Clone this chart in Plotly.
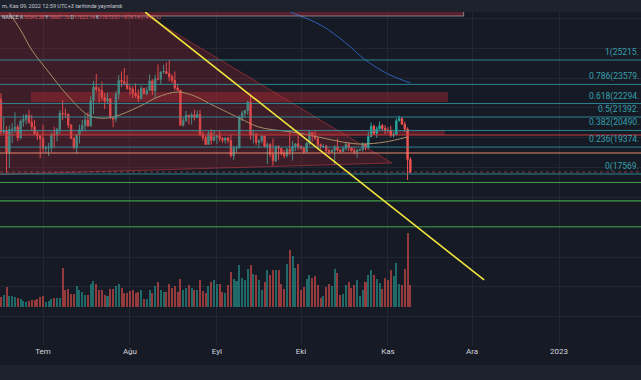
import plotly.graph_objects as go
import pandas as pd

# ---------------- data ----------------
DATES = pd.date_range("2022-06-16", periods=147, freq="D")

OPEN = [22572, 20381, 20471, 19017, 20553, 20573, 20723, 19988, 21110, 21237, 21491, 21038, 20742, 20281, 20123,
        19942, 19279, 19298, 19332, 20215, 20176, 20565, 21640, 21592, 21592, 20862, 19964, 19328, 20212, 20570,
        20836, 21190, 20780, 22485, 23389, 23231, 23164, 22714, 22465, 22609, 21361, 21239, 22930, 23843, 23774, 23643,
        23296, 23269, 22979, 22818, 22622, 23312, 22954, 23175, 23810, 23149, 23954, 23935, 24403, 24441, 24305,
        24094, 23854, 23342, 23191, 20834, 21140, 21516, 21400, 21528, 21368, 21559, 20241, 20037, 19555, 20285, 19811,
        20050, 20131, 19951, 19831, 19986, 19812, 18790, 19293, 19320, 21361, 21648, 21827, 22395, 20173, 20227,
        19701, 19804, 20114, 19417, 19538, 18876, 18462, 19401, 19289, 18920, 18807, 19227, 19079, 19413, 19592,
        19423, 19311, 19056, 19629, 20337, 20158, 19960, 19531, 19417, 19439, 19131, 19060, 19155, 19375, 19176,
        19069, 19262, 19549, 19328, 19123, 19041, 19164, 19204, 19570, 19330, 20080, 20771, 20295, 20591, 20809, 20627,
        20490, 20483, 20151, 20207, 21148, 21299, 20905, 20591, 18545]
HIGH = [22980, 21365, 20785, 20815, 20997, 21723, 20872, 21233, 21558, 21614, 21868, 21539, 21200, 20432, 20179,
        20877, 19467, 19647, 20354, 20740, 20675, 21838, 22527, 21954, 21603, 20900, 20054, 20245, 20880, 21200,
        21588, 21684, 22777, 23800, 24276, 23427, 23756, 23000, 23014, 22666, 21391, 23112, 24199, 24442, 24668, 24194,
        23509, 23459, 23647, 23223, 23472, 23354, 23402, 24245, 23925, 24226, 24918, 24456, 24888, 25047, 25211,
        24247, 24446, 23600, 23208, 21382, 21800, 21516, 21684, 21900, 21819, 21886, 20402, 20148, 20433, 20580, 20490,
        20208, 20445, 20056, 20000, 20055, 20180, 19464, 19457, 21500, 21810, 21860, 22488, 22799, 20541, 20330,
        19890, 20192, 20126, 19686, 19635, 19956, 19500, 19500, 19316, 19180, 19316, 20385, 19790, 19645, 20185,
        19484, 19395, 19719, 20475, 20365, 20456, 20057, 19621, 19559, 19527, 19268, 19220, 19513, 19951, 19227,
        19424, 19676, 19706, 19360, 19347, 19250, 19257, 19695, 19601, 20415, 21020, 20872, 20750, 21085, 20931, 20845,
        20700, 20800, 20393, 21302, 21480, 21365, 21069, 20700, 18688]
LOW = [20232, 20246, 17622, 17960, 19637, 20348, 19770, 19890, 20740, 20906, 20950, 20510, 20181, 19848, 18626,
       19004, 18975, 18781, 19055, 19302, 19761, 20250, 21189, 21316, 20655, 19901, 19238, 18910, 19616, 20384,
       20475, 20755, 20762, 21582, 23038, 22342, 22500, 21934, 22257, 21250, 20706, 21042, 22582, 23414, 23502, 23227,
       22850, 22654, 22681, 22400, 22586, 22909, 22844, 23155, 22865, 22664, 23852, 23580, 24296, 24264, 23774,
       23671, 23180, 23111, 20783, 20761, 21069, 20890, 20890, 21150, 21310, 20107, 19800, 19520, 19520, 19540, 19797,
       19565, 19752, 19655, 19600, 19635, 18681, 18510, 19010, 19300, 21111, 21350, 21538, 19860, 19617, 19497,
       19320, 19637, 19335, 18232, 18711, 18125, 18358, 18531, 18817, 18629, 18680, 18816, 18471, 19101, 19155,
       19160, 18920, 18959, 19490, 19730, 19853, 19320, 19250, 19320, 19023, 18860, 18965, 18190, 19070, 18975,
       19063, 19160, 19100, 19070, 18900, 18650, 19111, 19070, 19157, 19242, 20061, 20202, 20000, 20554, 20515, 20237,
       20330, 20048, 20031, 20180, 21081, 20880, 20384, 17166, 17623]
CLOSE = [20381, 20471, 19017, 20553, 20573, 20723, 19988, 21110, 21237, 21491, 21038, 20742, 20281, 20123, 19942,
         19279, 19298, 19332, 20215, 20176, 20565, 21640, 21592, 21589, 20862, 19964, 19328, 20212, 20570, 20836,
         21190, 20780, 22485, 23389, 23231, 23164, 22714, 22465, 22609, 21361, 21239, 22930, 23843, 23774, 23643, 23294,
         23269, 22979, 22818, 22622, 23312, 22954, 23175, 23810, 23149, 23954, 23935, 24403, 24441, 24305, 24094,
         23854, 23342, 23191, 20834, 21140, 21516, 21400, 21528, 21368, 21559, 20241, 20037, 19555, 20285, 19811, 20050,
         20131, 19951, 19831, 19986, 19812, 18790, 19293, 19320, 21361, 21648, 21827, 22395, 20173, 20227, 19701,
         19804, 20114, 19417, 19538, 18876, 18462, 19401, 19289, 18920, 18807, 19227, 19079, 19413, 19592, 19423,
         19311, 19056, 19629, 20337, 20158, 19960, 19531, 19417, 19439, 19131, 19060, 19155, 19375, 19176, 19069,
         19262, 19549, 19328, 19123, 19041, 19164, 19204, 19570, 19330, 20080, 20771, 20295, 20591, 20809, 20627, 20490,
         20483, 20151, 20207, 21148, 21299, 20905, 20591, 18547, 17673]
# volume, in tens of thousands of BTC
VOLUME = [10, 12, 20, 11, 11, 10, 9, 8, 6, 5, 6, 7, 7, 8, 10,
          11, 5, 6, 8, 9, 9, 9, 39, 17, 18, 13, 13, 21, 17, 15, 12, 12, 23, 26, 23, 17, 17, 12, 11, 18, 18, 21, 23, 19, 14, 14,
          16, 17, 14, 15, 17, 8, 8, 17, 14, 21, 25, 17, 15, 15, 23, 19, 21, 15, 28, 17, 19, 22, 19, 17, 17, 27, 16, 14, 21, 25, 27,
          23, 23, 15, 14, 22, 35, 28, 26, 42, 29, 27, 38, 42, 33, 32, 27, 17, 25, 37, 32, 37, 37, 37, 23, 18, 43, 57, 51, 39, 43,
          17, 20, 28, 32, 29, 31, 22, 9, 11, 20, 23, 21, 38, 34, 12, 13, 22, 25, 19, 22, 27, 11, 17, 25, 32, 37, 32, 28, 24, 18, 29,
          27, 37, 31, 44, 23, 22, 38, 74, 22]

# moving averages
MA_FAST_DATES = ["2022-06-19", "2022-06-23", "2022-06-27", "2022-07-03", "2022-07-09", "2022-07-17", "2022-07-21",
                 "2022-07-26", "2022-08-04", "2022-08-11", "2022-08-18", "2022-08-24", "2022-08-29", "2022-09-09",
                 "2022-09-16", "2022-09-30", "2022-10-18", "2022-10-23", "2022-10-31", "2022-11-08"]
MA_FAST = [28367, 27227, 25886, 24410, 23002, 21526, 21325, 21392, 22063, 22733, 23069, 22800, 22331, 21325,
           20721, 20319, 19648, 19581, 19715, 20051]
MA_SLOW_DATES = ["2022-09-27", "2022-10-08", "2022-10-17", "2022-10-24", "2022-11-01", "2022-11-09"]
MA_SLOW = [28434, 27562, 26355, 25215, 24276, 23672]

# Fibonacci retracement levels
FIB_PRICES = [25215, 23579, 22294, 21392, 20490, 19374, 17569]
FIB_LABELS = ["1(25215.", "0.786(23579.", "0.618(22294.", "0.5(21392.", "0.382(20490.", "0.236(19374.", "0(17569."]

# other drawn levels
RED_LEVEL = 20185
ORANGE_LEVEL = 18977
DOTTED_LEVEL = 17703
GREEN_LEVELS = [17000, 15760, 14030]

# drawings: triangle, zones, trend line
TRI_DATES = ["2022-06-01", "2022-11-02 10:00", "2022-06-01", "2022-06-01"]
TRI_PRICES = [35750, 18307, 17455, 35750]
ZONES = [  # (start, end, low, high)
    ("2022-06-26 17:00", "2022-11-22 10:00", 22398, 23069),
    ("2022-06-01", "2022-11-21 07:00", 20185, 20520),
    ("2022-06-01", "2022-11-28", 28166, 29500),
]
TREND_DATES = ["2022-08-06 10:00", "2022-12-05 07:00"]
TREND_PRICES = [28434, 10460]

TICK_DATES = ["2022-07-01", "2022-08-01", "2022-09-01", "2022-10-01", "2022-11-01", "2022-12-01", "2023-01-01"]
TICK_TEXT = ["Tem", "Ağu", "Eyl", "Eki", "Kas", "Ara", "2023"]

X_RANGE = ["2022-06-15 16:00", "2023-01-30 05:45"]
Y_RANGE = [6100, 28434]

BG = "#161a25"
BAND = "#1e222d"
UP = "#26a69a"
DOWN = "#ef5350"
FIB_COLOR = "#35a0ab"
FONT = "Roboto"

fig = go.Figure()

# triangle
fig.add_trace(go.Scatter(x=TRI_DATES, y=TRI_PRICES, mode="lines", fill="toself",
                         fillcolor="rgba(178,40,50,0.25)", line=dict(color="rgba(200,60,70,0.55)", width=1),
                         hoverinfo="skip"))

# volume
vol_colors = ["rgba(38,166,154,0.58)" if c >= o else "rgba(239,83,80,0.58)" for o, c in zip(OPEN, CLOSE)]
fig.add_trace(go.Bar(x=DATES, y=VOLUME, marker=dict(color=vol_colors, line=dict(width=0)),
                     width=0.72 * 86400000, yaxis="y2"))

# moving averages
fig.add_trace(go.Scatter(x=MA_FAST_DATES, y=MA_FAST, mode="lines", line=dict(color="#a88f68", width=1, shape="spline"),
                         hoverinfo="skip"))
fig.add_trace(go.Scatter(x=MA_SLOW_DATES, y=MA_SLOW, mode="lines", line=dict(color="#2e5fb8", width=1, shape="spline"),
                         hoverinfo="skip"))

# candles
fig.add_trace(go.Candlestick(x=DATES, open=OPEN, high=HIGH, low=LOW, close=CLOSE,
                             increasing=dict(line=dict(color=UP, width=1), fillcolor=UP),
                             decreasing=dict(line=dict(color=DOWN, width=1), fillcolor=DOWN),
                             whiskerwidth=0))

shapes = []
for x0, x1, lo, hi in ZONES:
    shapes.append(dict(type="rect", xref="x", yref="y", x0=x0, x1=x1, y0=lo, y1=hi,
                       fillcolor="rgba(178,40,50,0.42)", line=dict(width=0), layer="between"))
# outline of the top zone
shapes.append(dict(type="rect", xref="x", yref="y", x0=ZONES[2][0], x1=ZONES[2][1], y0=ZONES[2][2], y1=ZONES[2][3],
                   fillcolor="rgba(0,0,0,0)", line=dict(color="rgba(170,170,180,0.7)", width=1), layer="above"))
for p in FIB_PRICES:
    shapes.append(dict(type="line", xref="paper", yref="y", x0=0, x1=1, y0=p, y1=p,
                       line=dict(color="rgba(47,151,163,0.85)", width=1), layer="above"))
shapes.append(dict(type="line", xref="paper", yref="y", x0=0, x1=1, y0=RED_LEVEL, y1=RED_LEVEL,
                   line=dict(color="#c93a40", width=1), layer="above"))
shapes.append(dict(type="line", xref="paper", yref="y", x0=0, x1=1, y0=ORANGE_LEVEL, y1=ORANGE_LEVEL,
                   line=dict(color="#e9896a", width=1), layer="above"))
shapes.append(dict(type="line", xref="paper", yref="y", x0=0, x1=1, y0=DOTTED_LEVEL, y1=DOTTED_LEVEL,
                   line=dict(color="rgba(200,80,90,0.6)", width=1, dash="dot"), layer="above"))
for p in GREEN_LEVELS:
    shapes.append(dict(type="line", xref="paper", yref="y", x0=0, x1=1, y0=p, y1=p,
                       line=dict(color="#3f9c45", width=1.2), layer="above"))
shapes.append(dict(type="line", xref="x", yref="y", x0=TREND_DATES[0], x1=TREND_DATES[1],
                   y0=TREND_PRICES[0], y1=TREND_PRICES[1], line=dict(color="#f2e53c", width=1.6), layer="above"))
# header and footer bands
shapes.append(dict(type="rect", xref="paper", yref="paper", x0=0, x1=1, y0=1, y1=1.1,
                   fillcolor=BAND, line=dict(width=0), layer="above"))
shapes.append(dict(type="rect", xref="paper", yref="paper", x0=0, x1=1, y0=-0.2, y1=-20 / 333,
                   fillcolor=BAND, line=dict(width=0), layer="above"))

annotations = []
for p, lab in zip(FIB_PRICES, FIB_LABELS):
    annotations.append(dict(x=1, xref="paper", y=p, yref="y", text=lab, showarrow=False,
                            xanchor="right", yanchor="bottom", yshift=0,
                            font=dict(family=FONT, size=8.5, color=FIB_COLOR)))
annotations.append(dict(x=0, xref="paper", y=(345 - 6) / 333, yref="paper",
                        text="m, Kas 09, 2022 12:59 UTC+3 tarihinde yayınlandı", showarrow=False,
                        xanchor="left", yanchor="middle", font=dict(family=FONT, size=5.5, color="#c8cbd3")))
red = "#e0525a"
legend_txt = ("NANCE A<span style='color:%s'>18545.38</span> Y<span style='color:%s'>18687.76</span> "
              "D<span style='color:%s'>17623.14</span> K<span style='color:%s'>17673.07</span> "
              "<span style='color:%s'>−874.14 (−4.71%%)</span>") % (red, red, red, red, red)
annotations.append(dict(x=0, xref="paper", y=(345 - 17) / 333, yref="paper", text=legend_txt, showarrow=False,
                        xanchor="left", yanchor="middle", font=dict(family=FONT, size=5, color="#c8cbd3")))

fig.update_layout(
    width=641, height=380,
    margin=dict(l=0, r=0, t=12, b=35),
    paper_bgcolor=BG, plot_bgcolor=BG,
    showlegend=False,
    shapes=shapes, annotations=annotations,
    bargap=0,
    xaxis=dict(type="date", range=X_RANGE, tickvals=TICK_DATES, ticktext=TICK_TEXT,
               showgrid=True, gridcolor="#232734", gridwidth=1, zeroline=False, showline=False,
               ticks="", tickfont=dict(family=FONT, size=8, color="#d1d4dc"),
               rangeslider=dict(visible=False), fixedrange=True),
    yaxis=dict(range=Y_RANGE, tick0=0, dtick=2000, showgrid=True, gridcolor="#232734", gridwidth=1,
               zeroline=False, showticklabels=False, showline=False, fixedrange=True),
    yaxis2=dict(range=[-38, 295], overlaying="y", visible=False, fixedrange=True),
)

fig.write_html("out.html", config={"displayModeBar": False},
               post_script="document.body.style.margin='0';document.body.style.background='%s';" % BG)
